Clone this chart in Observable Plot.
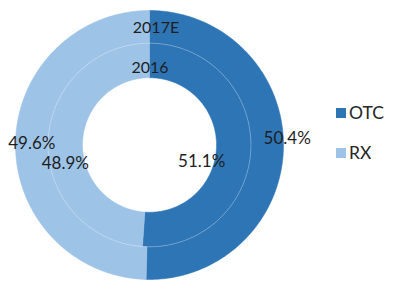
<!DOCTYPE html>
<html><head><meta charset="utf-8">
<script src="https://cdn.jsdelivr.net/npm/d3@7"></script>
<script src="https://cdn.jsdelivr.net/npm/@observablehq/plot@0.6"></script>
<style>
body{margin:0;background:#fff;}
#c{position:relative;width:394px;height:295px;overflow:hidden;font-family:Lato,"Liberation Sans",sans-serif;background:#fff;}
#c > svg{position:absolute;left:0;top:0;}
.lg-swatches{position:absolute;left:336px;top:93px;font-family:Lato,"Liberation Sans",sans-serif;font-size:17.5px;color:#262626;margin:0;}
.lg-swatch{height:40px;padding:0;margin:0;}
.lg-swatch > svg{margin-right:3px;}
.lg-swatch-label{line-height:40px;}
</style></head><body><div id="c"></div>
<script>
const years = ["2016", "2017E"];
const categories = ["OTC", "RX"];
const otcShare = [51.1, 50.4];
const rxShare = [48.9, 49.6];
const colors = ["#2E75B6", "#9DC3E6"];

// ring geometry (unit radius = outer edge), inner ring first
const ringRadii = [[0.5, 0.757], [0.757, 1]];
const PX = 134; // pixels per unit (for label nudges)
// label nudges in pixels, as placed in the reference
const nudges = {"2016|OTC": [-32, 14], "2016|RX": [0, 21], "2017E|OTC": [20, -8], "2017E|RX": [0, 0]};
const yearNudges = {"2016": [0.5, 7], "2017E": [6.5, 1]};

const slices = [];
const labels = [];
const yearLabels = [];
years.forEach((yr, i) => {
  const vals = [otcShare[i], rxShare[i]];
  const [r0, r1] = ringRadii[i];
  let cum = 0;
  vals.forEach((v, j) => {
    const a0 = cum / 100 * 2 * Math.PI, a1 = (cum + v) / 100 * 2 * Math.PI;
    cum += v;
    const id = yr + "|" + categories[j];
    const n = Math.max(2, Math.ceil((a1 - a0) / (Math.PI / 180)));
    const pts = [];
    for (let k = 0; k <= n; k++) { const a = a0 + (a1 - a0) * k / n; pts.push([r1 * Math.sin(a), r1 * Math.cos(a)]); }
    for (let k = n; k >= 0; k--) { const a = a0 + (a1 - a0) * k / n; pts.push([r0 * Math.sin(a), r0 * Math.cos(a)]); }
    pts.push(pts[0]);
    pts.forEach(([x, y]) => slices.push({id, cat: categories[j], x, y}));
    const am = (a0 + a1) / 2, rm = (r0 + r1) / 2;
    const [dx, dy] = nudges[id];
    labels.push({x: rm * Math.sin(am) + dx / PX, y: rm * Math.cos(am) - dy / PX, text: v.toFixed(1) + "%"});
  });
  const rm = (r0 + r1) / 2;
  const [dx, dy] = yearNudges[yr];
  yearLabels.push({x: dx / PX, y: rm - dy / PX, text: yr});
});

const divider = d3.range(0, 361, 2).map(d => ({x: 0.757 * Math.sin(d * Math.PI / 180), y: 0.757 * Math.cos(d * Math.PI / 180)}));

const chart = Plot.plot({
  width: 394, height: 295,
  marginLeft: 15, marginRight: 111, marginTop: 10, marginBottom: 16,
  x: {domain: [-1, 1], axis: null},
  y: {domain: [-1, 1], axis: null},
  color: {domain: categories, range: colors},
  style: {background: "transparent", fontFamily: "Lato, 'Liberation Sans', sans-serif"},
  marks: [
    Plot.line(slices, {x: "x", y: "y", z: "id", fill: "cat", stroke: "cat", strokeWidth: 0.5, curve: "linear"}),
    Plot.line(divider, {x: "x", y: "y", stroke: "white", strokeOpacity: 0.35, strokeWidth: 0.8}),
    Plot.text(labels, {x: "x", y: "y", text: "text", fontSize: 17, fill: "#1e1e1e"}),
    Plot.text(yearLabels, {x: "x", y: "y", text: "text", fontSize: 16, fill: "#1e1e1e"})
  ]
});
const c = document.getElementById("c");
c.appendChild(chart);
const legend = Plot.legend({color: {domain: categories, range: colors}, legend: "swatches", columns: 1, swatchSize: 10, className: "lg"});
c.appendChild(legend);
</script>
</body></html>
